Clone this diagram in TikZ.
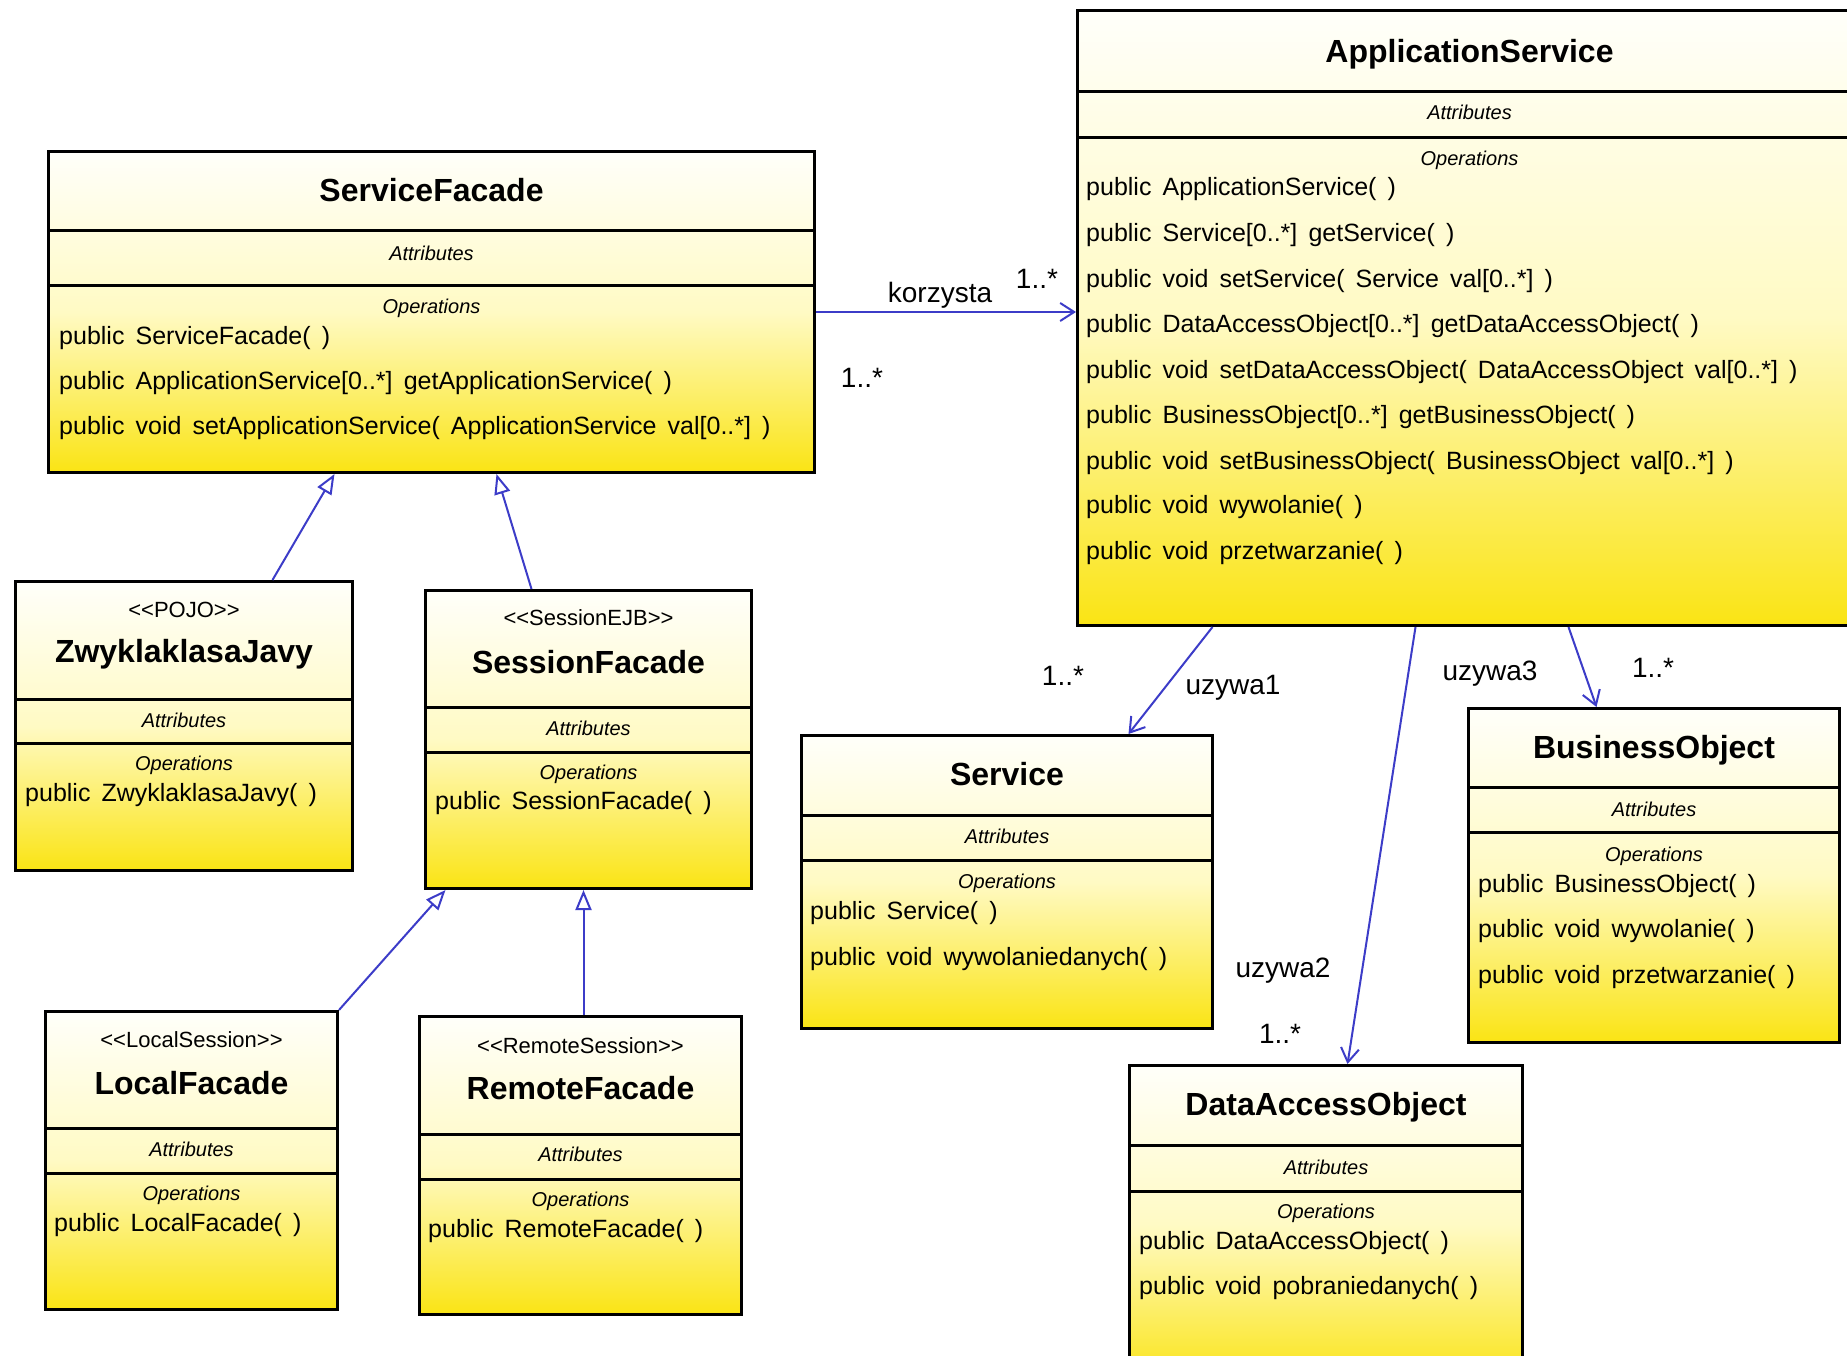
\documentclass[tikz,border=0pt]{standalone}
\usepackage{fontspec}
\setmainfont[WordSpace=1.6]{Liberation Sans}
\usetikzlibrary{arrows.meta,calc}
\definecolor{linkblue}{RGB}{60,60,200}
\definecolor{boxtop}{RGB}{255,255,250}
\definecolor{boxmid}{RGB}{255,250,196}
\definecolor{boxbot}{RGB}{250,228,20}
\tikzset{
  classbox/.style={draw=black, line width=3pt, rectangle, anchor=north west, inner sep=0pt,
    top color=boxtop, bottom color=boxbot, middle color=boxmid},
  divider/.style={draw=black, line width=3pt},
  title/.style={font=\fontsize{32}{36}\selectfont\bfseries, inner sep=0pt, text height=23pt, text depth=0pt},
  stereo/.style={font=\fontsize{22}{26}\selectfont, inner sep=0pt, text height=15.8pt, text depth=0pt},
  section/.style={font=\fontsize{20}{24}\selectfont\itshape, inner sep=0pt, text height=14.4pt, text depth=0pt},
  op/.style={font=\fontsize{25}{30}\selectfont, anchor=west, inner sep=0pt, text height=17pt, text depth=0pt},
  lbl/.style={font=\fontsize{28}{32}\selectfont, inner sep=0pt, text height=20pt, text depth=0pt},
  assoc/.style={draw=linkblue, line width=2pt, -{Straight Barb[length=14pt,width=18pt]}},
  gen/.style={draw=linkblue, line width=2pt, -{Triangle[open,length=20pt,width=16pt]}}
}
\begin{document}
\begin{tikzpicture}[x=1pt,y=-1pt]
\useasboundingbox (0,0) rectangle (1847,1356);
\fill[white] (0,0) rectangle (1847,1356);
\clip (0,0) rectangle (1847,1356);

% ServiceFacade
\node[classbox, minimum width=766pt, minimum height=321pt] (sf) at (47,150) {};
\draw[divider] (sf.west |- 0,231) -- (sf.east |- 0,231);
\draw[divider] (sf.west |- 0,286) -- (sf.east |- 0,286);
\node[title] (sfT) at (sf.center |- 0,190) {ServiceFacade};
\node[section] (sfA) at (sf.center |- 0,253) {Attributes};
\node[section] (sfO) at (sf.center |- 0,306) {Operations};
\node[op] (sf1) at (59,336) {public ServiceFacade( )};
\node[op] (sf2) at (59,381) {public ApplicationService[0..*] getApplicationService( )};
\node[op] (sf3) at (59,426) {public void setApplicationService( ApplicationService val[0..*] )};

% ApplicationService
\node[classbox, minimum width=784pt, minimum height=615pt] (as) at (1076,9) {};
\draw[divider] (as.west |- 0,92) -- (as.east |- 0,92);
\draw[divider] (as.west |- 0,138) -- (as.east |- 0,138);
\node[title] (asT) at (as.center |- 0,51) {ApplicationService};
\node[section] (asA) at (as.center |- 0,112) {Attributes};
\node[section] (asO) at (as.center |- 0,158) {Operations};
\node[op] (as1) at (1086,187) {public ApplicationService( )};
\node[op] (as2) at (1086,233) {public Service[0..*] getService( )};
\node[op] (as3) at (1086,279) {public void setService( Service val[0..*] )};
\node[op] (as4) at (1086,324) {public DataAccessObject[0..*] getDataAccessObject( )};
\node[op] (as5) at (1086,370) {public void setDataAccessObject( DataAccessObject val[0..*] )};
\node[op] (as6) at (1086,415) {public BusinessObject[0..*] getBusinessObject( )};
\node[op] (as7) at (1086,461) {public void setBusinessObject( BusinessObject val[0..*] )};
\node[op] (as8) at (1086,505) {public void wywolanie( )};
\node[op] (as9) at (1086,551) {public void przetwarzanie( )};

% ZwyklaklasaJavy
\node[classbox, minimum width=337pt, minimum height=289pt] (zk) at (14,580) {};
\draw[divider] (zk.west |- 0,699) -- (zk.east |- 0,699);
\draw[divider] (zk.west |- 0,743) -- (zk.east |- 0,743);
\node[stereo] (zkS) at (zk.center |- 0,610) {<{}<POJO>{}>};
\node[title] (zkT) at (zk.center |- 0,651) {ZwyklaklasaJavy};
\node[section] (zkA) at (zk.center |- 0,720) {Attributes};
\node[section] (zkO) at (zk.center |- 0,763) {Operations};
\node[op] (zk1) at (25,793) {public ZwyklaklasaJavy( )};

% SessionFacade
\node[classbox, minimum width=326pt, minimum height=298pt] (sesf) at (424,589) {};
\draw[divider] (sesf.west |- 0,707) -- (sesf.east |- 0,707);
\draw[divider] (sesf.west |- 0,752) -- (sesf.east |- 0,752);
\node[stereo] (sesfS) at (sesf.center |- 0,618) {<{}<SessionEJB>{}>};
\node[title] (sesfT) at (sesf.center |- 0,662) {SessionFacade};
\node[section] (sesfA) at (sesf.center |- 0,728) {Attributes};
\node[section] (sesfO) at (sesf.center |- 0,772) {Operations};
\node[op] (sesf1) at (435,801) {public SessionFacade( )};

% LocalFacade
\node[classbox, minimum width=292pt, minimum height=298pt] (lf) at (44,1010) {};
\draw[divider] (lf.west |- 0,1128) -- (lf.east |- 0,1128);
\draw[divider] (lf.west |- 0,1173) -- (lf.east |- 0,1173);
\node[stereo] (lfS) at (lf.center |- 0,1040) {<{}<LocalSession>{}>};
\node[title] (lfT) at (lf.center |- 0,1083) {LocalFacade};
\node[section] (lfA) at (lf.center |- 0,1149) {Attributes};
\node[section] (lfO) at (lf.center |- 0,1193) {Operations};
\node[op] (lf1) at (54,1223) {public LocalFacade( )};

% RemoteFacade
\node[classbox, minimum width=322pt, minimum height=298pt] (rf) at (418,1015) {};
\draw[divider] (rf.west |- 0,1134) -- (rf.east |- 0,1134);
\draw[divider] (rf.west |- 0,1179) -- (rf.east |- 0,1179);
\node[stereo] (rfS) at (rf.center |- 0,1046) {<{}<RemoteSession>{}>};
\node[title] (rfT) at (rf.center |- 0,1088) {RemoteFacade};
\node[section] (rfA) at (rf.center |- 0,1154) {Attributes};
\node[section] (rfO) at (rf.center |- 0,1199) {Operations};
\node[op] (rf1) at (428,1229) {public RemoteFacade( )};

% Service
\node[classbox, minimum width=411pt, minimum height=293pt] (srv) at (800,734) {};
\draw[divider] (srv.west |- 0,815) -- (srv.east |- 0,815);
\draw[divider] (srv.west |- 0,860) -- (srv.east |- 0,860);
\node[title] (srvT) at (srv.center |- 0,774) {Service};
\node[section] (srvA) at (srv.center |- 0,836) {Attributes};
\node[section] (srvO) at (srv.center |- 0,881) {Operations};
\node[op] (srv1) at (810,911) {public Service( )};
\node[op] (srv2) at (810,957) {public void wywolaniedanych( )};

% BusinessObject
\node[classbox, minimum width=371pt, minimum height=334pt] (bo) at (1467,707) {};
\draw[divider] (bo.west |- 0,787) -- (bo.east |- 0,787);
\draw[divider] (bo.west |- 0,832) -- (bo.east |- 0,832);
\node[title] (boT) at (bo.center |- 0,747) {BusinessObject};
\node[section] (boA) at (bo.center |- 0,809) {Attributes};
\node[section] (boO) at (bo.center |- 0,854) {Operations};
\node[op] (bo1) at (1478,884) {public BusinessObject( )};
\node[op] (bo2) at (1478,929) {public void wywolanie( )};
\node[op] (bo3) at (1478,975) {public void przetwarzanie( )};

% DataAccessObject
\node[classbox, minimum width=393pt, minimum height=320pt] (dao) at (1128,1064) {};
\draw[divider] (dao.west |- 0,1145) -- (dao.east |- 0,1145);
\draw[divider] (dao.west |- 0,1191) -- (dao.east |- 0,1191);
\node[title] (daoT) at (dao.center |- 0,1104) {DataAccessObject};
\node[section] (daoA) at (dao.center |- 0,1167) {Attributes};
\node[section] (daoO) at (dao.center |- 0,1211) {Operations};
\node[op] (dao1) at (1139,1241) {public DataAccessObject( )};
\node[op] (dao2) at (1139,1286) {public void pobraniedanych( )};

% Generalizations
\draw[gen] ([xshift=88.5pt]zk.north) -- ([xshift=-97pt]sf.south);
\draw[gen] ([xshift=-57pt]sesf.north) -- ([xshift=65pt]sf.south);
\draw[gen] (lf.north east) -- ([xshift=-143pt]sesf.south);
\draw[gen] ([xshift=3pt]rf.north) -- ([xshift=3pt]rf.north |- sesf.south);

% Associations
\draw[assoc] (sf.east) -- (sf.east -| as.west);
\draw[assoc] ([xshift=-257pt]as.south) -- ([xshift=121.5pt]srv.north);
\draw[assoc] ([xshift=-54pt]as.south) -- ([xshift=21.5pt]dao.north);
\draw[assoc] ([xshift=99pt]as.south) -- ([xshift=-57.5pt]bo.north);

% Labels
\node[lbl] (lk) at (940,293) {korzysta};
\node[lbl] (lk1) at (1037,279) {1..*};
\node[lbl] (lk2) at (862,377) {1..*};
\node[lbl] (lu1m) at (1063,675) {1..*};
\node[lbl] (lu1) at (1233,684) {uzywa1};
\node[lbl] (lu2) at (1283,967) {uzywa2};
\node[lbl] (lu2m) at (1280,1033) {1..*};
\node[lbl] (lu3) at (1490,670) {uzywa3};
\node[lbl] (lu3m) at (1653,667) {1..*};
\end{tikzpicture}
\end{document}
